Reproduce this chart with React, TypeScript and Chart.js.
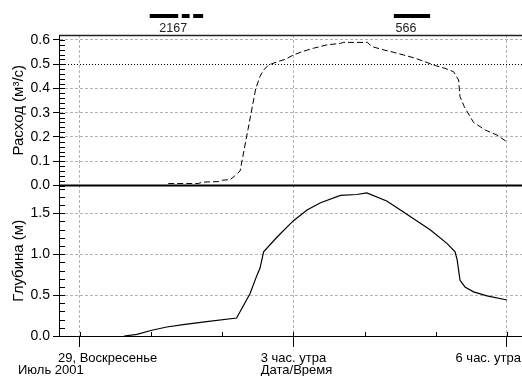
import React, { useEffect, useRef } from 'react';
import { Chart, registerables } from 'chart.js';

Chart.register(...registerables);

// Time in hours after midnight, 29 July 2001
const flowTimes = [1.24, 1.66, 1.72, 1.94, 2.0, 2.11, 2.17, 2.25, 2.36, 2.47, 2.53, 2.58, 2.65, 2.77, 2.88, 3.0, 3.12, 3.28, 3.47, 3.66, 3.7, 4.04, 4.1, 4.27, 4.41, 4.55, 4.71, 4.85, 5.0, 5.13, 5.25, 5.32, 5.34, 5.4, 5.53, 5.7, 5.86, 6.0];
const flowValues = [0.008, 0.008, 0.014, 0.016, 0.022, 0.024, 0.038, 0.06, 0.23, 0.4, 0.45, 0.476, 0.497, 0.51, 0.52, 0.538, 0.552, 0.566, 0.58, 0.586, 0.59, 0.59, 0.573, 0.559, 0.549, 0.538, 0.525, 0.51, 0.494, 0.483, 0.469, 0.435, 0.366, 0.325, 0.26, 0.228, 0.208, 0.18];

const depthTimes = [0.62, 0.8, 1.01, 1.22, 1.45, 1.78, 2.2, 2.29, 2.39, 2.49, 2.53, 2.58, 2.77, 3.0, 3.19, 3.38, 3.66, 3.89, 4.03, 4.31, 4.54, 4.92, 5.16, 5.27, 5.3, 5.34, 5.41, 5.53, 5.72, 6.0];
const depthValues = [0.0, 0.02, 0.07, 0.11, 0.14, 0.175, 0.22, 0.36, 0.52, 0.75, 0.83, 1.03, 1.21, 1.41, 1.54, 1.63, 1.72, 1.73, 1.75, 1.65, 1.52, 1.3, 1.13, 1.03, 0.93, 0.68, 0.6, 0.54, 0.49, 0.44];

const xTickValues = [0, 3, 6];
const xTickLabels = ['29, Воскресенье', '3 час. утра', '6 час. утра'];
const xSubLabel = 'Июль 2001';
const xTitle = 'Дата/Время';

const flowTicks = [0, 0.1, 0.2, 0.3, 0.4, 0.5, 0.6];
const depthTicks = [0, 0.5, 1.0, 1.5];
const flowReference = 0.5;

// sampling periods shown above the plot
const sampleStarts = [0.98, 1.43, 1.59, 4.41];
const sampleEnds = [1.38, 1.54, 1.73, 4.92];
const sampleLabels = ['2167', '566'];
const sampleLabelTimes = [1.31, 4.58];

const FONT = "'Liberation Sans', Arial, sans-serif";

const overlayPlugin = {
  id: 'overlay',
  beforeDatasetsDraw(chart: any) {
    const { ctx, chartArea } = chart;
    const yF = chart.scales.yFlow;
    ctx.save();
    ctx.strokeStyle = '#000';
    ctx.lineWidth = 1;
    ctx.setLineDash([1, 2]);
    const y = Math.round(yF.getPixelForValue(flowReference)) + 0.5;
    ctx.beginPath();
    ctx.moveTo(chartArea.left, y);
    ctx.lineTo(chartArea.right, y);
    ctx.stroke();
    ctx.restore();
  },
  afterDraw(chart: any) {
    const { ctx, chartArea } = chart;
    const x = chart.scales.x;
    const yF = chart.scales.yFlow;
    const yD = chart.scales.yDepth;
    ctx.save();
    ctx.setLineDash([]);
    ctx.strokeStyle = '#000';
    ctx.lineWidth = 1;
    ctx.beginPath();
    for (let i = 0; i <= 31; i++) {
      const v = i * 0.02;
      if (v > yF.max) break;
      const py = Math.round(yF.getPixelForValue(v)) + 0.5;
      ctx.moveTo(chartArea.left, py);
      ctx.lineTo(chartArea.left + 6, py);
    }
    for (let i = 0; i <= 18; i++) {
      const v = i * 0.1;
      const py = Math.round(yD.getPixelForValue(v)) + 0.5;
      ctx.moveTo(chartArea.left, py);
      ctx.lineTo(chartArea.left + 6, py);
    }
    for (let h = 0; h <= 6; h++) {
      const px = Math.round(x.getPixelForValue(h)) + 0.5;
      ctx.moveTo(px, chartArea.bottom);
      ctx.lineTo(px, chartArea.bottom - 4);
    }
    ctx.stroke();
    const sep = yF.getPixelForValue(0);
    ctx.lineWidth = 2;
    ctx.beginPath();
    ctx.moveTo(chartArea.left, sep);
    ctx.lineTo(chartArea.right, sep);
    ctx.stroke();
    ctx.lineWidth = 1.5;
    ctx.strokeStyle = '#222';
    ctx.beginPath();
    ctx.moveTo(chartArea.left, chartArea.top + 0.5);
    ctx.lineTo(chartArea.right, chartArea.top + 0.5);
    ctx.stroke();

    ctx.fillStyle = '#000';
    ctx.font = `13px ${FONT}`;
    ctx.textBaseline = 'middle';
    ctx.textAlign = 'left';
    let thirdStart = 0;
    xTickValues.forEach((v, i) => {
      const w = ctx.measureText(xTickLabels[i]).width;
      let left = x.getPixelForValue(v) - w / 2;
      left = Math.max(chartArea.left - 1, Math.min(left, chartArea.right - w - 1));
      if (i === 1) thirdStart = left;
      ctx.fillText(xTickLabels[i], left, 358);
    });
    ctx.fillText(xSubLabel, 18, 370);
    ctx.fillText(xTitle, thirdStart, 370);

    ctx.fillStyle = '#000';
    sampleStarts.forEach((s, i) => {
      const x1 = x.getPixelForValue(s);
      const x2 = x.getPixelForValue(sampleEnds[i]);
      ctx.fillRect(x1, 14, x2 - x1, 4);
    });
    ctx.fillStyle = '#222';
    ctx.font = `12.5px ${FONT}`;
    ctx.textAlign = 'center';
    sampleLabels.forEach((t, i) => {
      ctx.fillText(t, x.getPixelForValue(sampleLabelTimes[i]), 29);
    });
    ctx.restore();
  },
};

export default function App() {
  const ref = useRef<HTMLCanvasElement | null>(null);
  useEffect(() => {
    if (!ref.current) return;
    const gridColor = '#b4b4b4';
    const tickFont = { family: FONT, size: 14 };
    const titleFont = { family: FONT, size: 15 };
    const chart = new Chart(ref.current, {
      type: 'line',
      data: {
        datasets: [
          {
            label: 'Расход',
            data: flowTimes.map((t, i) => ({ x: t, y: flowValues[i] })),
            yAxisID: 'yFlow',
            borderColor: '#000',
            borderWidth: 1,
            borderDash: [6, 3],
            pointRadius: 0,
            tension: 0,
            fill: false,
          },
          {
            label: 'Глубина',
            data: depthTimes.map((t, i) => ({ x: t, y: depthValues[i] })),
            yAxisID: 'yDepth',
            borderColor: '#000',
            borderWidth: 1.2,
            pointRadius: 0,
            tension: 0,
            fill: false,
          },
        ],
      },
      options: {
        responsive: false,
        animation: false,
        events: [],
        layout: { padding: { top: 35, left: 0, right: 0, bottom: 0 } },
        plugins: { legend: { display: false }, tooltip: { enabled: false }, title: { display: false } },
        scales: {
          x: {
            type: 'linear',
            position: 'bottom',
            min: -0.295,
            max: 6.211,
            afterBuildTicks: (s: any) => {
              s.ticks = xTickValues.map((v) => ({ value: v }));
            },
            afterFit: (s: any) => {
              s.height = 40;
            },
            ticks: { display: false, autoSkip: false },
            grid: { color: gridColor, lineWidth: 1, tickColor: '#000', tickLength: 11, drawTicks: true },
            border: { color: '#000', width: 1, dash: [3, 2] },
          },
          yFlow: {
            type: 'linear',
            position: 'left',
            stack: 'panels',
            stackWeight: 1,
            weight: 2,
            min: 0,
            max: 0.6206,
            afterBuildTicks: (s: any) => {
              s.ticks = flowTicks.map((v) => ({ value: v }));
            },
            afterFit: (s: any) => {
              s.width = 59;
            },
            ticks: {
              color: '#000',
              font: tickFont,
              padding: 3,
              autoSkip: false,
              callback: (v: any) => Number(v).toFixed(1),
            },
            grid: {
              color: (c: any) => (c.tick && (c.tick.value === 0 || c.tick.value === flowReference) ? 'rgba(0,0,0,0)' : gridColor),
              tickColor: '#000',
              tickLength: 6,
            },
            border: { color: '#000', width: 1, dash: [3, 2] },
            title: {
              display: true,
              text: 'Расход (м³/с)',
              color: '#000',
              font: titleFont,
              padding: { top: 10, bottom: 0 },
            },
          },
          yDepth: {
            type: 'linear',
            position: 'left',
            stack: 'panels',
            stackWeight: 1,
            weight: 1,
            min: 0,
            max: 1.84,
            afterBuildTicks: (s: any) => {
              s.ticks = depthTicks.map((v) => ({ value: v }));
            },
            afterFit: (s: any) => {
              s.width = 59;
            },
            ticks: {
              color: '#000',
              font: tickFont,
              padding: 3,
              autoSkip: false,
              callback: (v: any) => Number(v).toFixed(1),
            },
            grid: {
              color: (c: any) => (c.tick && c.tick.value === 0 ? 'rgba(0,0,0,0)' : gridColor),
              tickColor: '#000',
              tickLength: 6,
            },
            border: { color: '#000', width: 1, dash: [3, 2] },
            title: {
              display: true,
              text: 'Глубина (м)',
              color: '#000',
              font: titleFont,
              padding: { top: 10, bottom: 0 },
            },
          },
        },
      },
      plugins: [overlayPlugin],
    } as any);
    return () => chart.destroy();
  }, []);
  return (
    <div style={{ position: 'absolute', left: 0, top: 0, width: 522, height: 376, background: '#fff' }}>
      <canvas ref={ref} width={522} height={376} />
    </div>
  );
}
